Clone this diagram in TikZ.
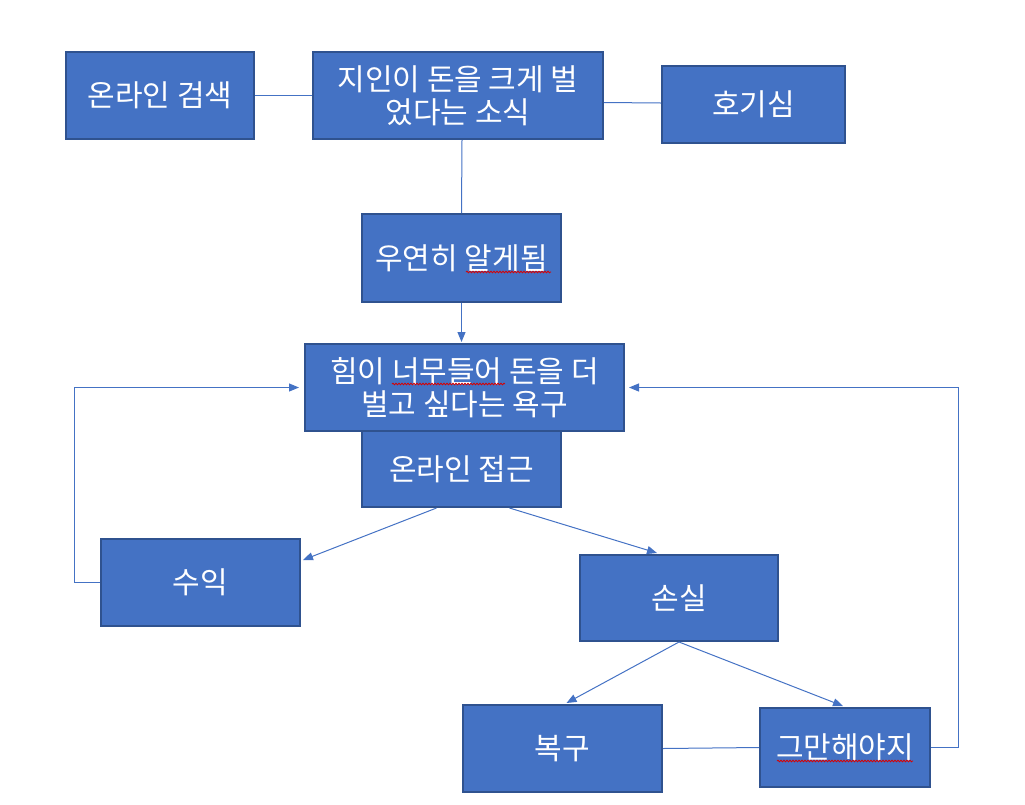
\documentclass[tikz,border=0pt]{standalone}
\usepackage{fontspec}
\setmainfont{Noto Sans CJK KR}
\usetikzlibrary{arrows.meta,calc,decorations.pathmorphing}
\definecolor{boxfill}{HTML}{4472C4}
\definecolor{boxline}{HTML}{2F528F}
\definecolor{conn}{HTML}{4472C4}
\tikzset{
  box/.style={draw=boxline, line width=2pt, fill=boxfill, text=white, align=center,
    inner sep=0pt, font=\fontsize{30}{33}\selectfont},
  link/.style={draw=conn, line width=1pt},
  arr/.style={link, -{Triangle[length=10pt,width=8pt]}},
  squig/.style={draw=red!85!black, line width=0.8pt, decorate,
    decoration={snake, segment length=3pt, amplitude=0.8pt}}
}
\begin{document}
\begin{tikzpicture}[x=1pt,y=-1pt]
\useasboundingbox (0,0) rectangle (1025,804);
\node[box, minimum width=188pt, minimum height=87pt] (a) at (160,95.5) {온라인 검색};
\node[box, minimum width=290pt, minimum height=87pt] (b) at (458,95.5) {지인이 돈을 크게 벌\\었다는 소식};
\node[box, minimum width=183pt, minimum height=77pt] (c) at (753.5,104.5) {호기심};
\node[box, minimum width=199pt, minimum height=88pt] (d) at (461.5,258) {우연히 알게됨};
\node[box, minimum width=319pt, minimum height=87pt] (e) at (464.5,387.5) {힘이 너무들어 돈을 더\\벌고 싶다는 욕구};
\node[box, minimum width=199pt, minimum height=76pt] (f) at (461.5,469) {온라인 접근};
\node[box, minimum width=199pt, minimum height=87pt] (g) at (200.5,582.5) {수익};
\node[box, minimum width=198pt, minimum height=86pt] (h) at (679,598) {손실};
\node[box, minimum width=199pt, minimum height=87pt] (i) at (562.5,748.5) {복구};
\node[box, minimum width=170pt, minimum height=79pt] (j) at (845,747.5) {그만해야지};
% spell-check underlines
\draw[squig] (466,272) -- (551,272);
\draw[squig] (392,384) -- (505,384);
\draw[squig] (777,761) -- (913,761);
% connectors
\draw[link] (a.east) -- (b.west);
\draw[link] ($(b.east)+(0,7)$) -- ($(c.west)+(0,-1.5)$);
\draw[link] ($(b.south)+(4,0)$) -- (d.north);
\draw[arr] (d.south) -- ($(e.north)+(-3,-1)$);
\draw[arr] ($(f.south)+(-25,0)$) -- ($(g.east)+(2,-22.5)$);
\draw[arr] ($(f.south)+(48,0)$) -- ($(h.north)+(-22,-1)$);
\draw[arr] (h.south) -- ($(i.north)+(4,-1)$);
\draw[arr] (h.south) -- ($(j.north)+(-2,-1)$);
\draw[link] (i.east) -- (j.west);
\draw[arr] (g.west) -- ++(-26,0) |- ($(e.west)+(-5,0)$);
\draw[arr] (j.east) -- ++(27,0) |- ($(e.east)+(4,0)$);
\end{tikzpicture}
\end{document}
